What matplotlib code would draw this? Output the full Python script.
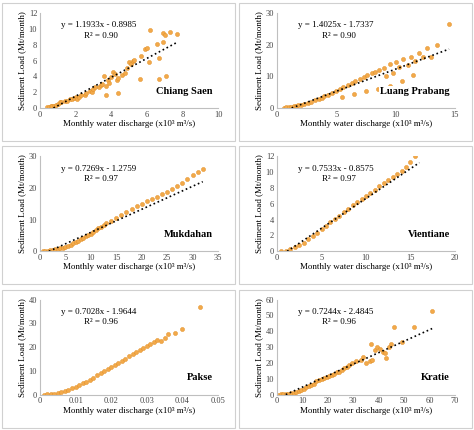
import matplotlib
matplotlib.use("Agg")
import matplotlib.pyplot as plt
from matplotlib.patches import Rectangle
from matplotlib.ticker import FixedFormatter
import numpy as np

plt.rcParams['font.family'] = ['Liberation Serif', 'DejaVu Serif']

stations = ["Chiang Saen", "Luang Prabang", "Mukdahan", "Vientiane", "Pakse", "Kratie"]
equations = ["y = 1.1933x - 0.8985", "y = 1.4025x - 1.7337", "y = 0.7269x - 1.2759",
             "y = 0.7533x - 0.8575", "y = 0.7028x - 1.9644", "y = 0.7244x - 2.4845"]
r2_text = ["R² = 0.90", "R² = 0.90", "R² = 0.97", "R² = 0.97", "R² = 0.96", "R² = 0.96"]
slopes = [1.1933, 1.4025, 0.7269, 0.7533, 0.7028, 0.7244]
intercepts = [-0.8985, -1.7337, -1.2759, -0.8575, -1.9644, -2.4845]
xlims = [10, 15, 35, 20, 0.05, 70]
xticks = [[0, 2, 4, 6, 8, 10], [0, 5, 10, 15], [0, 5, 10, 15, 20, 25, 30, 35],
          [0, 5, 10, 15, 20], [0, 0.01, 0.02, 0.03, 0.04, 0.05], [0, 10, 20, 30, 40, 50, 60, 70]]
xticklabels = [None, None, None, None, ["0", "0.01", "0.02", "0.03", "0.04", "0.05"], None]
ylims = [12, 30, 30, 12, 40, 60]
yticks = [[0, 2, 4, 6, 8, 10, 12], [0, 10, 20, 30], [0, 10, 20, 30],
          [0, 2, 4, 6, 8, 10, 12], [0, 10, 20, 30, 40], [0, 10, 20, 30, 40, 50, 60]]

x_cs = [0.4, 0.5, 0.6, 0.7, 0.8, 0.9, 1.0, 1.1, 1.2, 1.4, 1.5, 1.7, 1.8, 1.9, 2.0, 2.1, 2.2, 2.3, 2.5,
        2.6, 2.8, 2.9, 3.0, 3.1, 3.3, 3.4, 3.5, 3.6, 3.7, 3.7, 3.8, 3.9, 4.0, 4.1, 4.2, 4.3, 4.4, 4.4,
        4.6, 4.8, 4.9, 5.0, 5.1, 5.2, 5.3, 5.6, 5.7, 5.9, 6.0, 6.1, 6.2, 6.6, 6.7, 6.7, 6.9, 6.9, 7.0,
        7.1, 7.3, 7.7]
y_cs = [0.1, 0.1, 0.2, 0.3, 0.3, 0.4, 0.5, 0.8, 0.7, 0.9, 0.9, 1.1, 1.2, 1.3, 1.4, 1.2, 1.4, 1.6, 1.7,
        1.9, 2.1, 2.0, 2.4, 2.6, 2.7, 2.9, 3.0, 4.0, 1.6, 2.8, 3.5, 3.1, 3.9, 4.5, 4.3, 3.6, 1.9, 3.8,
        4.2, 4.4, 5.1, 5.8, 5.5, 6.0, 6.1, 3.7, 6.6, 7.5, 7.6, 5.8, 9.9, 8.1, 3.7, 6.3, 8.3, 9.5, 9.2,
        4.0, 9.6, 9.3]

x_lp = [0.6, 0.8, 1.0, 1.2, 1.4, 1.6, 1.8, 2.0, 2.3, 2.6, 2.9, 3.2, 3.5, 3.8, 4.0, 4.3, 4.6, 5.0,
        5.3, 5.6, 6.0, 6.3, 6.6, 7.0, 7.3, 7.6, 8.0, 8.3, 8.6, 9.0, 9.2, 9.5, 9.8, 10.0, 10.3, 10.6,
        11.0, 11.3, 11.6, 12.0, 12.3, 12.6, 13.0, 13.5, 14.5, 5.5, 6.5, 7.5, 8.5, 9.5, 10.5, 11.5]
y_lp = [0.1, 0.2, 0.3, 0.4, 0.5, 0.6, 0.8, 1.0, 1.3, 1.7, 2.0, 2.4, 2.9, 3.3, 3.8, 4.2, 4.8, 5.5,
        6.0, 6.5, 7.2, 8.0, 8.5, 9.2, 9.8, 10.3, 11.0, 11.5, 12.0, 12.5, 10.0, 14.0, 11.0, 14.5, 13.0,
        15.5, 13.5, 16.0, 15.0, 17.5, 16.0, 19.0, 16.0, 20.0, 26.5, 3.5, 4.5, 5.5, 6.0, 7.0, 8.5, 10.5]

x_mk = [0.5, 1.0, 1.5, 2.0, 2.5, 3.0, 3.5, 4.0, 4.5, 5.0, 5.5, 6.0, 6.5, 7.0, 7.5, 8.0, 8.5, 9.0,
        9.5, 10.0, 10.5, 11.0, 11.5, 12.0, 12.5, 13.0, 14.0, 15.0, 16.0, 17.0, 18.0, 19.0, 20.0,
        21.0, 22.0, 23.0, 24.0, 25.0, 26.0, 27.0, 28.0, 29.0, 30.0, 31.0, 32.0]
y_mk = [0.0, 0.1, 0.2, 0.3, 0.4, 0.6, 0.8, 1.0, 1.2, 1.5, 1.8, 2.1, 2.5, 2.9, 3.3, 3.8, 4.2, 4.7,
        5.2, 5.6, 6.1, 6.6, 7.4, 7.8, 8.3, 8.8, 9.6, 10.5, 11.5, 12.5, 13.5, 14.2, 15.0, 15.8, 16.5,
        17.2, 18.0, 18.8, 19.6, 20.5, 21.5, 22.8, 24.0, 25.0, 26.0]

x_vt = [0.5, 1.0, 1.5, 2.0, 2.5, 3.0, 3.5, 4.0, 4.5, 5.0, 5.5, 6.0, 6.5, 7.0, 7.5, 8.0, 8.5, 9.0,
        9.5, 10.0, 10.5, 11.0, 11.5, 12.0, 12.5, 13.0, 13.5, 14.0, 14.5, 15.0, 15.5, 16.0]
y_vt = [0.0, 0.1, 0.3, 0.5, 0.8, 1.1, 1.5, 1.9, 2.3, 2.8, 3.2, 3.7, 4.1, 4.5, 5.0, 5.4, 5.8, 6.2,
        6.6, 7.0, 7.4, 7.8, 8.2, 8.6, 9.0, 9.4, 9.8, 10.2, 10.7, 11.3, 12.0, 13.3]

x_pk = [0.001, 0.002, 0.003, 0.004, 0.005, 0.006, 0.007, 0.008, 0.009, 0.010, 0.011, 0.012, 0.013,
        0.014, 0.015, 0.016, 0.017, 0.018, 0.019, 0.020, 0.021, 0.022, 0.023, 0.024, 0.025, 0.026,
        0.027, 0.028, 0.029, 0.030, 0.031, 0.032, 0.033, 0.034, 0.035, 0.036, 0.038, 0.040, 0.045]
y_pk = [0.0, 0.1, 0.2, 0.4, 0.7, 1.0, 1.5, 2.0, 2.6, 3.2, 3.9, 4.7, 5.5, 6.3, 7.2, 8.1, 9.0, 9.8,
        10.8, 11.7, 12.5, 13.4, 14.3, 15.2, 16.3, 17.2, 18.0, 18.8, 19.5, 20.5, 21.5, 22.0, 23.0,
        22.5, 24.0, 25.5, 26.0, 27.5, 37.0]

x_kr = [0.5, 1.5, 2.5, 3.5, 4.5, 5.5, 6.5, 7.5, 8.5, 9.5, 10.5, 11.5, 12.5, 13.5, 14.5, 15.5, 16.5,
        17.5, 18.5, 19.5, 20.5, 21.5, 22.5, 23.5, 24.5, 25.5, 26.5, 27.5, 28.5, 29.5, 31.0, 33.0,
        34.0, 35.0, 36.5, 37.0, 37.5, 38.5, 39.5, 40.5, 41.5, 42.5, 43.0, 44.0, 45.0, 46.0, 49.0,
        54.0, 61.0]
y_kr = [0.0, 0.1, 0.2, 0.4, 0.6, 0.9, 1.3, 1.8, 2.4, 3.0, 3.7, 4.5, 5.3, 6.1, 7.0, 8.5, 9.0, 10.0,
        10.5, 11.0, 12.0, 12.5, 13.0, 14.0, 14.5, 15.5, 16.5, 17.5, 19.0, 20.0, 21.0, 22.0, 24.0,
        20.0, 21.0, 32.0, 22.0, 28.0, 30.0, 29.0, 27.0, 26.0, 23.0, 30.0, 32.0, 43.0, 33.0, 43.0,
        53.0]

xs = [x_cs, x_lp, x_mk, x_vt, x_pk, x_kr]
ys = [y_cs, y_lp, y_mk, y_vt, y_pk, y_kr]

fig = plt.figure(figsize=(4.74, 4.30), dpi=100)
W, H = 474, 430
for i in range(6):
    col, row = i % 2, i // 2
    px, py = col * 237, row * 143.3
    fig.patches.append(Rectangle(((px + 2) / W, 1 - (py + 141) / H), 233 / W, 138 / H,
                                 transform=fig.transFigure, fill=False, ec='#d0d0d0', lw=0.8))
    ax = fig.add_axes([(px + 40) / W, 1 - (py + 108) / H, 178 / W, 95 / H])
    ax.scatter(xs[i], ys[i], s=9, c='#F2A94A', edgecolors='#E08C20', linewidths=0.3, zorder=2)
    xl = np.array([min(xs[i]), max(xs[i])])
    xl[0] = max(xl[0], -intercepts[i] / slopes[i])
    ax.plot(xl, slopes[i] * xl + intercepts[i], ls=':', color='black', lw=1.2, zorder=3)
    ax.set_xlim(0, xlims[i]); ax.set_ylim(0, ylims[i])
    ax.set_xticks(xticks[i]); ax.set_yticks(yticks[i])
    if xticklabels[i] is not None:
        ax.set_xticklabels(xticklabels[i])
    ax.tick_params(labelsize=6, length=0, colors='#444444', pad=2)
    for s in ax.spines.values():
        s.set_visible(False)
    ax.spines['bottom'].set_visible(True); ax.spines['bottom'].set_color('#bfbfbf')
    ax.spines['left'].set_visible(True); ax.spines['left'].set_color('#bfbfbf')
    ax.set_xlabel("Monthly water discharge (x10³ m³/s)", fontsize=6.5, labelpad=1)
    ax.set_ylabel("Sediment Load (Mt/month)", fontsize=6.5, labelpad=2)
    ax.text(0.12, 0.85, equations[i], transform=ax.transAxes, fontsize=6.5)
    ax.text(0.25, 0.74, r2_text[i], transform=ax.transAxes, fontsize=6.5)
    ax.text(0.97, 0.15, stations[i], transform=ax.transAxes, fontsize=7.5,
            fontweight='bold', ha='right', zorder=5,
            bbox=dict(fc='white', ec='none', pad=0.5) if i == 1 else None)

fig.savefig("out.png", dpi=100)
